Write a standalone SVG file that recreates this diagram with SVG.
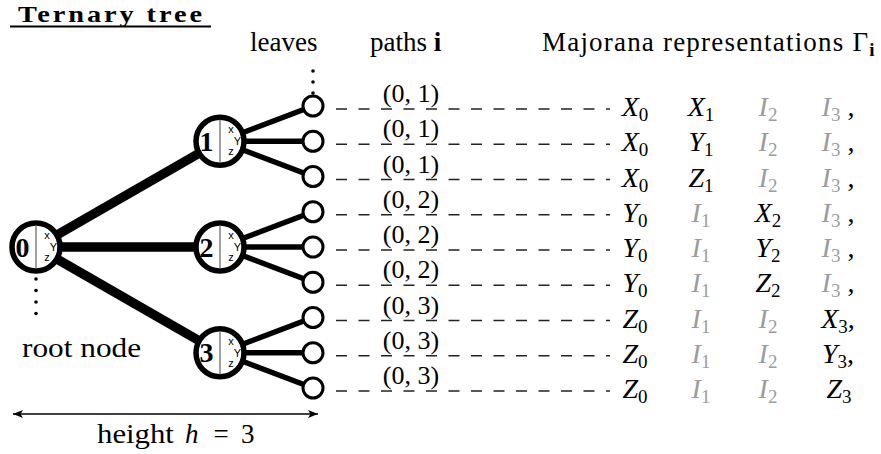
<svg xmlns="http://www.w3.org/2000/svg" width="881" height="454" viewBox="0 0 881 454">
  <defs>
    <style>
      .t{font-family:"Liberation Serif","Times New Roman",serif;fill:#000}
      .ttl{font-size:24px;font-weight:bold}
      .lbl{font-size:27px}
      .pth{font-size:26px;text-anchor:middle}
      .row{font-size:28px;font-style:italic;text-anchor:middle}
      .sub{font-size:19px;font-style:normal}
      .grey{fill:#9c9c9c}
      .blk{fill:#000;font-style:normal}
      .dig{font-size:28px;font-weight:bold;text-anchor:middle}
      .ax{font-family:"Liberation Sans",Arial,sans-serif;font-size:11px;text-anchor:middle;fill:#000}
      .node{fill:#fff;stroke:#000;stroke-width:5.5}
      .leaf{fill:#fff;stroke:#000;stroke-width:3}
      .split{stroke:#808080;stroke-width:1.5}
      .trunk{stroke:#000;stroke-width:9.5}
      .branch{stroke:#000;stroke-width:5.5}
      .dash{stroke:#222;stroke-width:1.5;stroke-dasharray:11 11.5}
      .dot{fill:#000}
    </style>
    <marker id="tip" viewBox="0 0 10 8" refX="10" refY="4" markerWidth="10" markerHeight="8" markerUnits="userSpaceOnUse" orient="auto-start-reverse">
      <path d="M0,0 L10,4 L0,8 L2.5,4 Z" fill="#000"/>
    </marker>
  </defs>

  <!-- heading -->
  <g id="title">
    <text class="t ttl" transform="translate(18,21.5) scale(1.18,1)" x="0" y="0" textLength="156" lengthAdjust="spacing">Ternary tree</text>
    <line x1="10" y1="26.5" x2="211" y2="26.5" stroke="#000" stroke-width="2.2"/>
  </g>

  <!-- column headings -->
  <g id="headings">
    <text class="t lbl" x="250" y="51">leaves</text>
    <text class="t lbl" x="370" y="51">paths <tspan font-weight="bold">i</tspan></text>
    <text class="t lbl" x="542" y="51"><tspan textLength="326" lengthAdjust="spacing">Majorana representations Γ</tspan><tspan class="sub" font-weight="bold" dy="5">i</tspan></text>
  </g>

  <!-- edges and dashed path guides -->
  <g id="connectors">
    <line class="trunk" x1="36" y1="247" x2="220" y2="141.25"/>
    <line class="trunk" x1="36" y1="247" x2="220" y2="247"/>
    <line class="trunk" x1="36" y1="247" x2="220" y2="352.75"/>

    <line class="branch" x1="220" y1="141.25" x2="313" y2="106"/>
    <line class="branch" x1="220" y1="141.25" x2="313" y2="141.25"/>
    <line class="branch" x1="220" y1="141.25" x2="313" y2="176.5"/>
    <line class="branch" x1="220" y1="247" x2="313" y2="211.75"/>
    <line class="branch" x1="220" y1="247" x2="313" y2="247"/>
    <line class="branch" x1="220" y1="247" x2="313" y2="282.25"/>
    <line class="branch" x1="220" y1="352.75" x2="313" y2="317.5"/>
    <line class="branch" x1="220" y1="352.75" x2="313" y2="352.75"/>
    <line class="branch" x1="220" y1="352.75" x2="313" y2="388"/>

    <line class="dash" x1="336" y1="109" x2="610" y2="109"/>
    <line class="dash" x1="336" y1="144.25" x2="610" y2="144.25"/>
    <line class="dash" x1="336" y1="179.5" x2="610" y2="179.5"/>
    <line class="dash" x1="336" y1="214.75" x2="610" y2="214.75"/>
    <line class="dash" x1="336" y1="250" x2="610" y2="250"/>
    <line class="dash" x1="336" y1="285.25" x2="610" y2="285.25"/>
    <line class="dash" x1="336" y1="320.5" x2="610" y2="320.5"/>
    <line class="dash" x1="336" y1="355.75" x2="610" y2="355.75"/>
    <line class="dash" x1="336" y1="391" x2="610" y2="391"/>
  </g>

  <!-- continuation dots -->
  <g id="ellipses">
    <circle class="dot" cx="313" cy="71" r="1.8"/>
    <circle class="dot" cx="313" cy="82" r="1.8"/>
    <circle class="dot" cx="313" cy="93" r="1.8"/>
    <circle class="dot" cx="36" cy="279" r="1.8"/>
    <circle class="dot" cx="36" cy="290.5" r="1.8"/>
    <circle class="dot" cx="36" cy="302" r="1.8"/>
    <circle class="dot" cx="36" cy="313.5" r="1.8"/>
  </g>

  <!-- inner nodes -->
  <g id="node-0">
    <circle class="node" cx="36" cy="247" r="24"/>
    <line class="split" x1="36" y1="225.5" x2="36" y2="268.5"/>
    <text class="t dig" x="22.5" y="256.5">0</text>
    <text class="ax" x="47" y="239">x</text>
    <text class="ax" x="53.5" y="251">Y</text>
    <text class="ax" x="47" y="261">z</text>
  </g>
  <g id="node-1">
    <circle class="node" cx="220" cy="141.25" r="24"/>
    <line class="split" x1="220" y1="119.75" x2="220" y2="162.75"/>
    <text class="t dig" x="206.5" y="150.75">1</text>
    <text class="ax" x="231" y="133.25">x</text>
    <text class="ax" x="237.5" y="145.25">Y</text>
    <text class="ax" x="231" y="155.25">z</text>
  </g>
  <g id="node-2">
    <circle class="node" cx="220" cy="247" r="24"/>
    <line class="split" x1="220" y1="225.5" x2="220" y2="268.5"/>
    <text class="t dig" x="206.5" y="256.5">2</text>
    <text class="ax" x="231" y="239">x</text>
    <text class="ax" x="237.5" y="251">Y</text>
    <text class="ax" x="231" y="261">z</text>
  </g>
  <g id="node-3">
    <circle class="node" cx="220" cy="352.75" r="24"/>
    <line class="split" x1="220" y1="331.25" x2="220" y2="374.25"/>
    <text class="t dig" x="206.5" y="362.25">3</text>
    <text class="ax" x="231" y="344.75">x</text>
    <text class="ax" x="237.5" y="356.75">Y</text>
    <text class="ax" x="231" y="366.75">z</text>
  </g>

  <!-- leaves -->
  <g id="leaf-1"><circle class="leaf" cx="313" cy="106" r="10"/></g>
  <g id="leaf-2"><circle class="leaf" cx="313" cy="141.25" r="10"/></g>
  <g id="leaf-3"><circle class="leaf" cx="313" cy="176.5" r="10"/></g>
  <g id="leaf-4"><circle class="leaf" cx="313" cy="211.75" r="10"/></g>
  <g id="leaf-5"><circle class="leaf" cx="313" cy="247" r="10"/></g>
  <g id="leaf-6"><circle class="leaf" cx="313" cy="282.25" r="10"/></g>
  <g id="leaf-7"><circle class="leaf" cx="313" cy="317.5" r="10"/></g>
  <g id="leaf-8"><circle class="leaf" cx="313" cy="352.75" r="10"/></g>
  <g id="leaf-9"><circle class="leaf" cx="313" cy="388" r="10"/></g>

  <!-- path labels -->
  <g id="path-labels">
    <text class="t pth" x="411" y="102">(0, 1)</text>
    <text class="t pth" x="411" y="137.25">(0, 1)</text>
    <text class="t pth" x="411" y="172.5">(0, 1)</text>
    <text class="t pth" x="411" y="207.75">(0, 2)</text>
    <text class="t pth" x="411" y="243">(0, 2)</text>
    <text class="t pth" x="411" y="278.25">(0, 2)</text>
    <text class="t pth" x="411" y="313.5">(0, 3)</text>
    <text class="t pth" x="411" y="348.75">(0, 3)</text>
    <text class="t pth" x="411" y="384">(0, 3)</text>
  </g>

  <!-- Majorana strings, one row per leaf -->
  <g id="rows">
    <g id="row-1">
      <text class="t row" x="635" y="116">X<tspan class="sub" dy="5">0</tspan></text>
      <text class="t row" x="701" y="116">X<tspan class="sub" dy="5">1</tspan></text>
      <text class="t row grey" x="768" y="116">I<tspan class="sub" dy="5">2</tspan></text>
      <text class="t row" x="838" y="116"><tspan class="grey">I<tspan class="sub" dy="5">3</tspan></tspan><tspan class="blk" dy="-5"> ,</tspan></text>
    </g>
    <g id="row-2">
      <text class="t row" x="635" y="151.25">X<tspan class="sub" dy="5">0</tspan></text>
      <text class="t row" x="701" y="151.25">Y<tspan class="sub" dy="5">1</tspan></text>
      <text class="t row grey" x="768" y="151.25">I<tspan class="sub" dy="5">2</tspan></text>
      <text class="t row" x="838" y="151.25"><tspan class="grey">I<tspan class="sub" dy="5">3</tspan></tspan><tspan class="blk" dy="-5"> ,</tspan></text>
    </g>
    <g id="row-3">
      <text class="t row" x="635" y="186.5">X<tspan class="sub" dy="5">0</tspan></text>
      <text class="t row" x="701" y="186.5">Z<tspan class="sub" dy="5">1</tspan></text>
      <text class="t row grey" x="768" y="186.5">I<tspan class="sub" dy="5">2</tspan></text>
      <text class="t row" x="838" y="186.5"><tspan class="grey">I<tspan class="sub" dy="5">3</tspan></tspan><tspan class="blk" dy="-5"> ,</tspan></text>
    </g>
    <g id="row-4">
      <text class="t row" x="635" y="221.75">Y<tspan class="sub" dy="5">0</tspan></text>
      <text class="t row grey" x="701" y="221.75">I<tspan class="sub" dy="5">1</tspan></text>
      <text class="t row" x="768" y="221.75">X<tspan class="sub" dy="5">2</tspan></text>
      <text class="t row" x="838" y="221.75"><tspan class="grey">I<tspan class="sub" dy="5">3</tspan></tspan><tspan class="blk" dy="-5"> ,</tspan></text>
    </g>
    <g id="row-5">
      <text class="t row" x="635" y="257">Y<tspan class="sub" dy="5">0</tspan></text>
      <text class="t row grey" x="701" y="257">I<tspan class="sub" dy="5">1</tspan></text>
      <text class="t row" x="768" y="257">Y<tspan class="sub" dy="5">2</tspan></text>
      <text class="t row" x="838" y="257"><tspan class="grey">I<tspan class="sub" dy="5">3</tspan></tspan><tspan class="blk" dy="-5"> ,</tspan></text>
    </g>
    <g id="row-6">
      <text class="t row" x="635" y="292.25">Y<tspan class="sub" dy="5">0</tspan></text>
      <text class="t row grey" x="701" y="292.25">I<tspan class="sub" dy="5">1</tspan></text>
      <text class="t row" x="768" y="292.25">Z<tspan class="sub" dy="5">2</tspan></text>
      <text class="t row" x="838" y="292.25"><tspan class="grey">I<tspan class="sub" dy="5">3</tspan></tspan><tspan class="blk" dy="-5"> ,</tspan></text>
    </g>
    <g id="row-7">
      <text class="t row" x="635" y="327.5">Z<tspan class="sub" dy="5">0</tspan></text>
      <text class="t row grey" x="701" y="327.5">I<tspan class="sub" dy="5">1</tspan></text>
      <text class="t row grey" x="768" y="327.5">I<tspan class="sub" dy="5">2</tspan></text>
      <text class="t row" x="838" y="327.5">X<tspan class="sub" dy="5">3</tspan><tspan class="blk" dy="-5">,</tspan></text>
    </g>
    <g id="row-8">
      <text class="t row" x="635" y="362.75">Z<tspan class="sub" dy="5">0</tspan></text>
      <text class="t row grey" x="701" y="362.75">I<tspan class="sub" dy="5">1</tspan></text>
      <text class="t row grey" x="768" y="362.75">I<tspan class="sub" dy="5">2</tspan></text>
      <text class="t row" x="838" y="362.75">Y<tspan class="sub" dy="5">3</tspan><tspan class="blk" dy="-5">,</tspan></text>
    </g>
    <g id="row-9">
      <text class="t row" x="635" y="398">Z<tspan class="sub" dy="5">0</tspan></text>
      <text class="t row grey" x="701" y="398">I<tspan class="sub" dy="5">1</tspan></text>
      <text class="t row grey" x="768" y="398">I<tspan class="sub" dy="5">2</tspan></text>
      <text class="t row" x="839" y="398">Z<tspan class="sub" dy="5">3</tspan></text>
    </g>
  </g>

  <!-- root caption and height measure -->
  <g id="captions">
    <text class="t lbl" transform="translate(22,357) scale(1.16,1)" x="0" y="0">root node</text>
    <line x1="13" y1="414" x2="318" y2="414" stroke="#000" stroke-width="1.3" marker-start="url(#tip)" marker-end="url(#tip)"/>
    <text class="t lbl" transform="translate(97,443) scale(1.14,1)" x="0" y="0">height</text>
    <text class="t lbl" x="185" y="443" font-style="italic">h</text>
    <text class="t lbl" x="221" y="443" text-anchor="middle">=</text>
    <text class="t lbl" x="241" y="443">3</text>
  </g>
</svg>
